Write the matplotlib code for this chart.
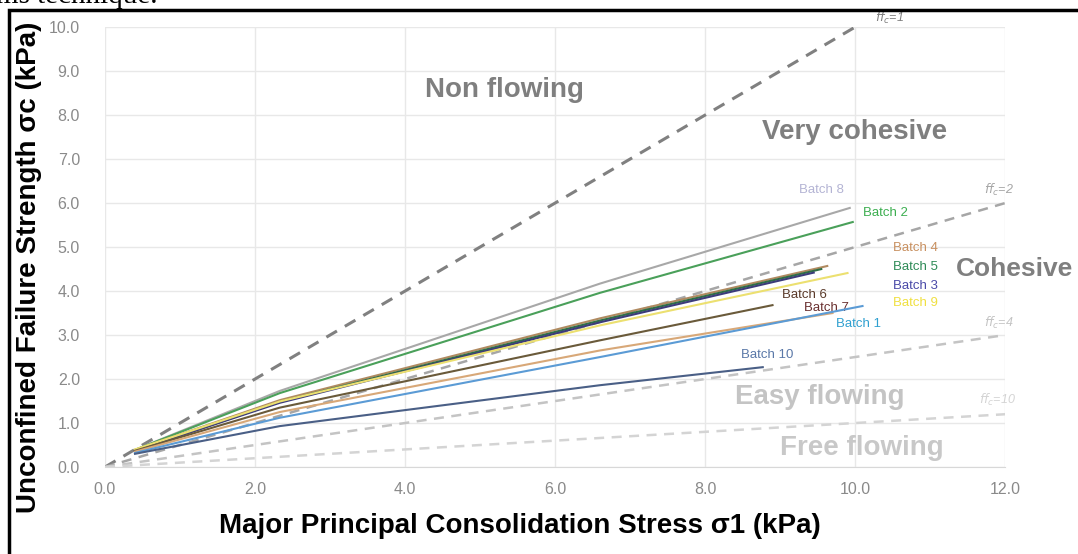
import matplotlib.pyplot as plt
from matplotlib.patches import Rectangle

plt.rcParams['font.family'] = ['Liberation Sans', 'DejaVu Sans']

# batch flow functions (start, ~2.3, ~6.6, end)
batches = ['Batch 8', 'Batch 2', 'Batch 4', 'Batch 5', 'Batch 3', 'Batch 9',
           'Batch 6', 'Batch 7', 'Batch 1', 'Batch 10']
batch_x = [
    [0.4, 2.33, 6.6, 9.93],
    [0.4, 2.33, 6.6, 9.97],
    [0.4, 2.33, 6.6, 9.63],
    [0.4, 2.33, 6.6, 9.55],
    [0.4, 2.33, 6.6, 9.45],
    [0.4, 2.33, 6.6, 9.9],
    [0.4, 2.33, 6.6, 8.9],
    [0.4, 2.33, 6.6, 9.7],
    [0.4, 2.33, 6.6, 10.1],
    [0.4, 2.33, 6.6, 8.77],
]
batch_y = [
    [0.39, 1.73, 4.17, 5.89],
    [0.39, 1.68, 3.96, 5.57],
    [0.39, 1.52, 3.38, 4.57],
    [0.37, 1.48, 3.33, 4.5],
    [0.37, 1.46, 3.29, 4.42],
    [0.4, 1.49, 3.22, 4.41],
    [0.37, 1.35, 2.88, 3.68],
    [0.35, 1.25, 2.65, 3.5],
    [0.32, 1.12, 2.5, 3.66],
    [0.3, 0.93, 1.86, 2.27],
]
line_colors = ['#a8a8a8', '#4aa05a', '#b08a60', '#2f6e45', '#3c3c7a', '#ece070',
               '#6a5a3a', '#d8a878', '#5b9bd5', '#4a5f86']
label_colors = ['#b4b4d4', '#3cae50', '#c89060', '#2e8b57', '#4a4aa8', '#f0e040',
                '#5a3a2a', '#6a3030', '#30a0d0', '#5a78a8']
label_x = [9.25, 10.1, 10.5, 10.5, 10.5, 10.5, 9.03, 9.32, 9.75, 8.48]
label_y = [6.3, 5.78, 4.98, 4.55, 4.11, 3.73, 3.9, 3.61, 3.25, 2.55]

# ffc iso-lines
ffc = [1, 2, 4, 10]
ffc_xmax = [10, 12, 12, 12]
ffc_colors = ['#808080', '#a6a6a6', '#c4c4c4', '#d4d4d4']
ffc_lx = [10.27, 11.72, 11.72, 11.65]
ffc_ly = [10.2, 6.3, 3.27, 1.52]

regions = ['Non flowing', 'Very cohesive', 'Cohesive', 'Easy flowing', 'Free flowing']
region_x = [5.32, 9.99, 11.35, 9.53, 10.09]
region_y = [8.57, 7.61, 4.5, 1.59, 0.43]
region_ha = ['center', 'center', 'left', 'center', 'center']
region_size = [20, 20, 19, 20, 20]
region_colors = ['#7f7f7f', '#7f7f7f', '#7f7f7f', '#c4c4c4', '#c8c8c8']

fig = plt.figure(figsize=(10.78, 5.54), dpi=100)
ax = fig.add_axes([0.0974, 0.157, 0.8349, 0.794])

for k, f in enumerate(ffc):
    ax.plot([0, ffc_xmax[k]], [0, ffc_xmax[k] / f], ls=(0, (4, 3)),
            color=ffc_colors[k], lw=2.2 if f == 1 else 1.8, zorder=2)
    ax.text(ffc_lx[k], ffc_ly[k], r'$ff_c$=' + str(f), color=ffc_colors[k],
            fontsize=9, style='italic', ha='left', va='center')

for i, b in enumerate(batches):
    ax.plot(batch_x[i], batch_y[i], color=line_colors[i], lw=1.5, zorder=3)
    ax.text(label_x[i], label_y[i], b, color=label_colors[i], fontsize=9.5,
            ha='left', va='center')

for i, r in enumerate(regions):
    ax.text(region_x[i], region_y[i], r, color=region_colors[i],
            fontsize=region_size[i], fontweight='bold', ha=region_ha[i],
            va='center', clip_on=False)

ax.set_xlim(0, 12)
ax.set_ylim(0, 10)
ax.set_xticks([0, 2, 4, 6, 8, 10, 12])
ax.set_yticks(range(11))
ax.set_xticklabels(['%.1f' % v for v in ax.get_xticks()])
ax.set_yticklabels(['%.1f' % v for v in ax.get_yticks()])
ax.tick_params(length=0, colors='#8a8a8a', labelsize=11.5, pad=11)
ax.tick_params(axis='y', pad=18)
ax.grid(True, color='#e8e8e8', lw=1)
ax.set_axisbelow(True)
for s in ax.spines.values():
    s.set_visible(False)
ax.spines['bottom'].set_visible(True)
ax.spines['bottom'].set_color('#d8d8d8')

ax.set_xlabel('Major Principal Consolidation Stress σ1 (kPa)', fontsize=20,
              fontweight='bold')
ax.xaxis.set_label_coords(0.461, -0.105)
ax.set_ylabel('Unconfined Failure Strength σc (kPa)', fontsize=20,
              fontweight='bold')
ax.yaxis.set_label_coords(-0.0704, 0.455)

# screenshot frame and cut-off caption above it
fig.patches.append(Rectangle((9 / 1078, -0.05), 1.1, 1 - 10 / 554 + 0.05,
                             transform=fig.transFigure, fill=False,
                             edgecolor='black', lw=2.5))
fig.text(-0.004, 1.008, 'ms technique.', family='Liberation Serif', fontsize=21,
         va='center', ha='left')

fig.savefig('out.png', dpi=100)
